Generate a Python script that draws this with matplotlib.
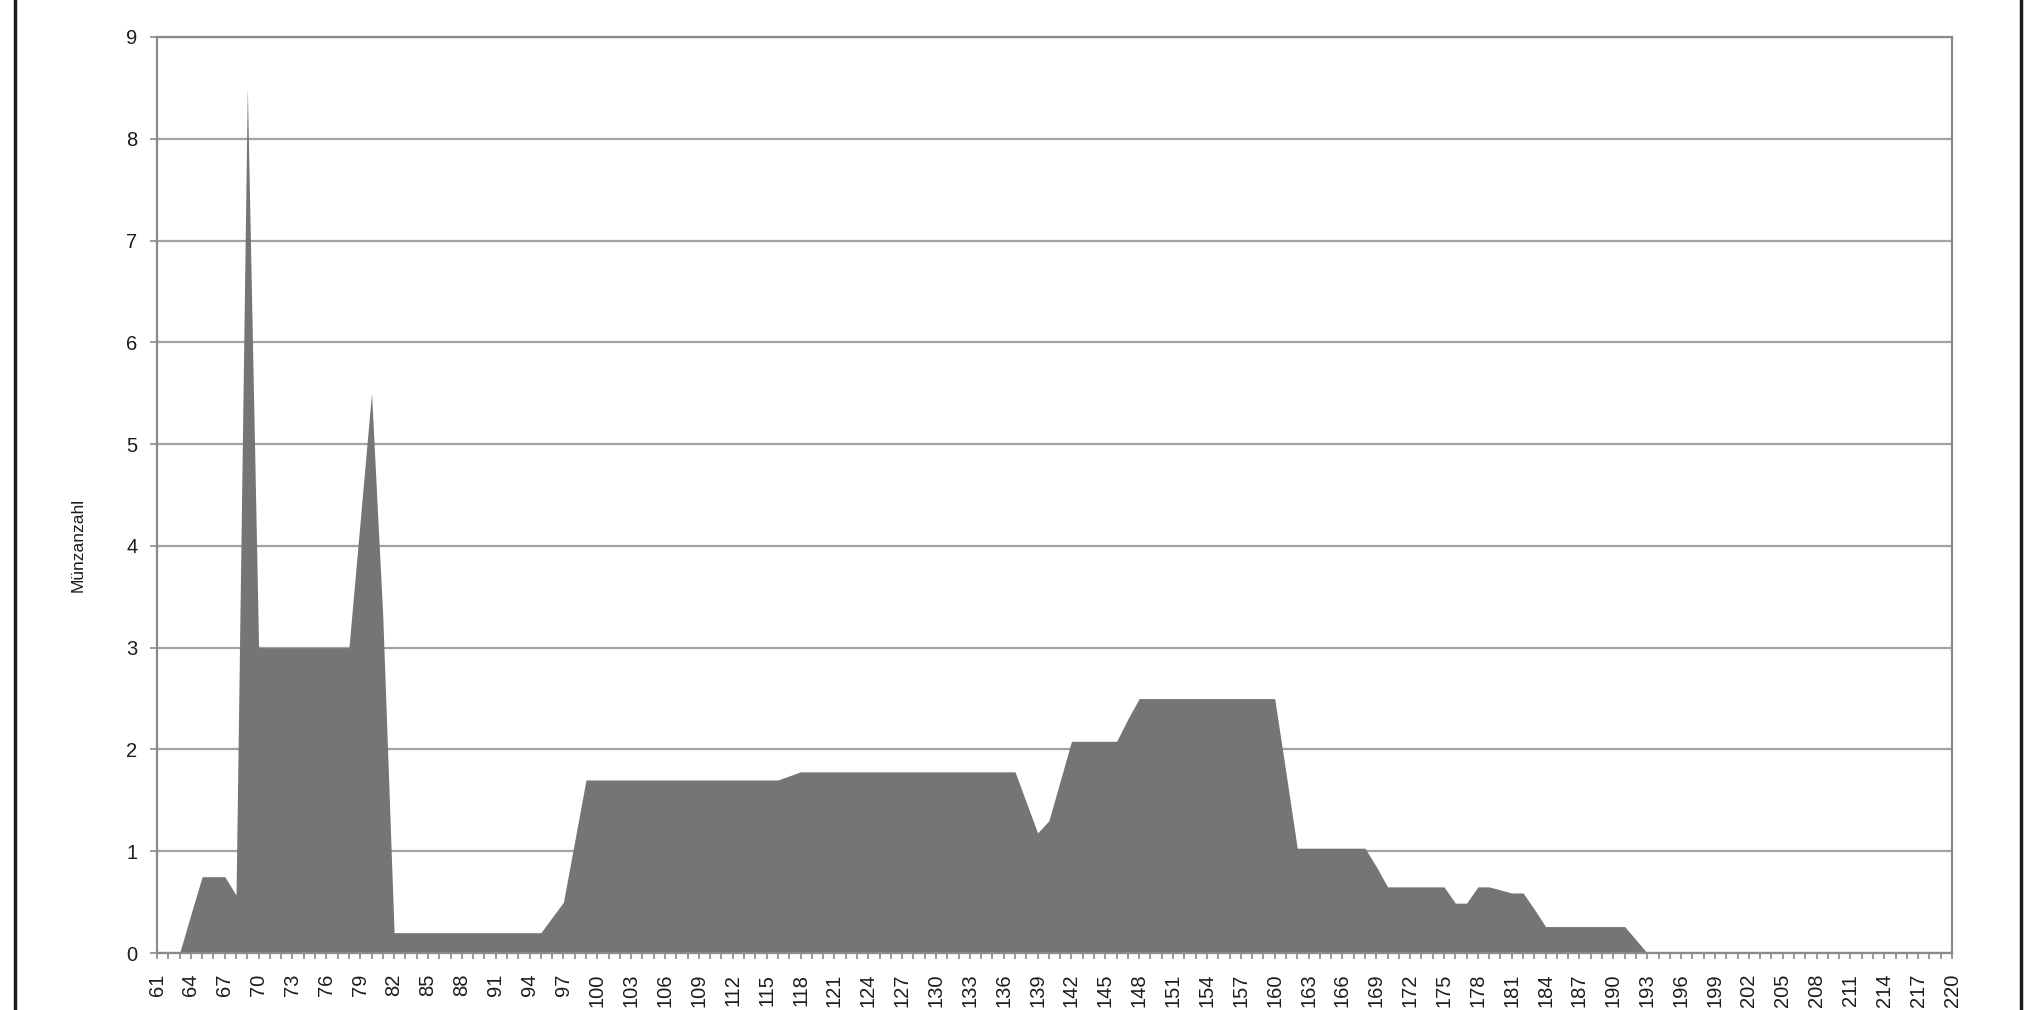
import numpy as np
import matplotlib.pyplot as plt
from matplotlib.lines import Line2D

# -------------------------------------------------------------------------
# Data: coin count per year (61 .. 220)
# -------------------------------------------------------------------------
years = list(range(61, 221))

counts = [
    0, 0, 0, 0.38, 0.75, 0.75, 0.75, 0.57, 8.5,                      # 61-69
    3, 3, 3, 3, 3, 3, 3, 3, 3,                                       # 70-78
    4.25, 5.5, 3.3,                                                  # 79-81
    0.2, 0.2, 0.2, 0.2, 0.2, 0.2, 0.2, 0.2, 0.2, 0.2, 0.2, 0.2, 0.2, 0.2,  # 82-95
    0.35, 0.5, 1.1,                                                  # 96-98
    1.7, 1.7, 1.7, 1.7, 1.7, 1.7, 1.7, 1.7, 1.7, 1.7, 1.7, 1.7,      # 99-110
    1.7, 1.7, 1.7, 1.7, 1.7, 1.7,                                    # 111-116
    1.74,                                                            # 117
    1.78, 1.78, 1.78, 1.78, 1.78, 1.78, 1.78, 1.78, 1.78, 1.78,      # 118-127
    1.78, 1.78, 1.78, 1.78, 1.78, 1.78, 1.78, 1.78, 1.78, 1.78,      # 128-137
    1.48, 1.18, 1.3, 1.69,                                           # 138-141
    2.08, 2.08, 2.08, 2.08, 2.08,                                    # 142-146
    2.3,                                                             # 147
    2.5, 2.5, 2.5, 2.5, 2.5, 2.5, 2.5, 2.5, 2.5, 2.5, 2.5, 2.5, 2.5, # 148-160
    1.77,                                                            # 161
    1.03, 1.03, 1.03, 1.03, 1.03, 1.03, 1.03,                        # 162-168
    0.85,                                                            # 169
    0.65, 0.65, 0.65, 0.65, 0.65, 0.65,                              # 170-175
    0.49, 0.49, 0.65, 0.65, 0.62, 0.59, 0.59, 0.43,                  # 176-183
    0.26, 0.26, 0.26, 0.26, 0.26, 0.26, 0.26, 0.26,                  # 184-191
    0.13,                                                            # 192
    0, 0, 0, 0, 0, 0, 0, 0, 0, 0, 0, 0, 0, 0,                        # 193-206
    0, 0, 0, 0, 0, 0, 0, 0, 0, 0, 0, 0, 0, 0,                        # 207-220
]

year_labels = [str(y) for y in range(61, 221, 3)]
y_ticks = list(range(0, 10))

# -------------------------------------------------------------------------
# Style
# -------------------------------------------------------------------------
plt.rcParams.update({
    "font.family": ["Liberation Sans", "DejaVu Sans"],
    "font.size": 14,
})

fill_color = "#767476"
grid_color = "#a3a3a3"
axis_color = "#8a8a8a"
text_color = "#1c1c1c"

fig = plt.figure(figsize=(20.26, 10.10), dpi=100)
ax = fig.add_axes([0.0775, 0.0564, 0.886, 0.907])

ax.fill_between(years, counts, 0, color=fill_color, linewidth=0, zorder=2)

ax.set_xlim(61, 220)
ax.set_ylim(0, 9)

ax.set_yticks(y_ticks)
ax.set_yticklabels([str(t) for t in y_ticks], color=text_color, fontsize=14.5)
ax.yaxis.grid(True, color=grid_color, linewidth=1.6, zorder=1)
ax.set_axisbelow(True)

ax.set_xticks(range(61, 221, 3))
ax.set_xticklabels(year_labels, rotation=90, color=text_color, fontsize=14.5)
ax.set_xticks(years, minor=True)

ax.tick_params(axis="y", length=5, width=1.2, color=axis_color, pad=9)
ax.tick_params(axis="x", which="both", length=4, width=1.2, color=axis_color, pad=11)

for side in ["left", "right", "top", "bottom"]:
    ax.spines[side].set_color(axis_color)
    ax.spines[side].set_linewidth(1.6)

ax.set_ylabel("Münzanzahl", fontsize=12.5, color=text_color)
ax.yaxis.set_label_coords(-0.040, 0.445)

# thin frame lines at the left and right edge of the page
fig.add_artist(Line2D([15 / 2026, 15 / 2026], [0, 1], transform=fig.transFigure,
                      color="#1a1a1a", linewidth=2.5))
fig.add_artist(Line2D([2021 / 2026, 2021 / 2026], [0, 1], transform=fig.transFigure,
                      color="#1a1a1a", linewidth=2.5))

fig.savefig("out.png", dpi=100)
